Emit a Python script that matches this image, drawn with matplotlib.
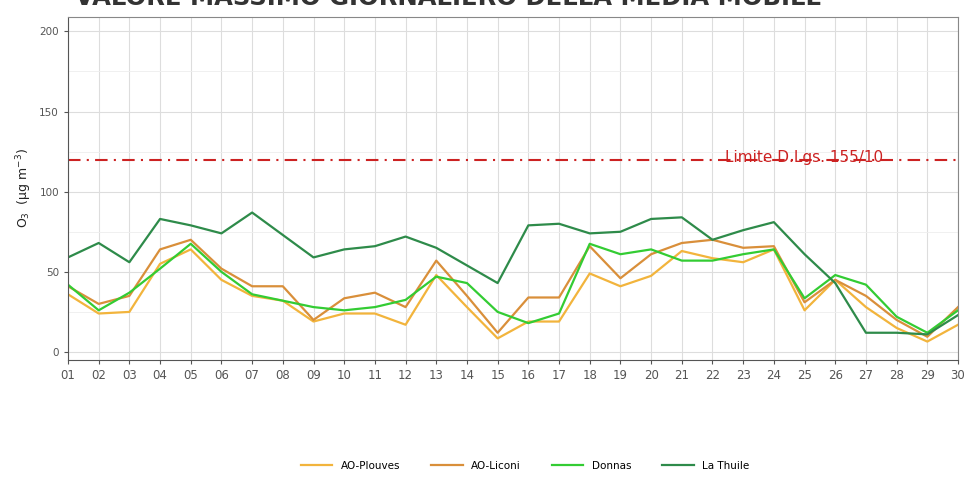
import matplotlib
matplotlib.use("Agg")
import matplotlib.pyplot as plt
from matplotlib.ticker import MultipleLocator
import numpy as np

days = [f"{d:02d}" for d in range(1, 31)]
ao_plouves = [36, 24, 25, 55, 64, 45, 35, 32, 19, 24, 24, 17, 48, 28, 8.5, 19, 19, 49, 41, 47.5,
              63, 58.5, 56, 64, 26, 45, 28, 15, 6.5, 17]
ao_liconi = [41, 30, 35, 64, 70, 52, 41, 41, 20, 33.5, 37, 28, 57, 35, 12, 34, 34, 66, 46, 61,
             68, 70, 65, 66, 31, 45, 35, 20, 9.5, 28]
donnas = [42, 26, 37, 52, 67.5, 50, 36, 32, 28, 26, 28, 32.5, 47, 43, 25, 18, 24, 67.5, 61, 64,
          57, 57, 61, 64, 33.5, 48, 42, 22, 12, 26]
la_thuile = [59, 68, 56, 83, 79, 74, 87, 73, 59, 64, 66, 72, 65, 54, 43, 79, 80, 74, 75, 83,
             84, 70, 76, 81, 61, 43, 12, 12, 11, 23]
limit_value = 120
limit_label = "Limite D.Lgs. 155/10"
series_names = ["AO-Plouves", "AO-Liconi", "Donnas", "La Thuile"]
colors = ["#f2b43c", "#d98f3a", "#33cc33", "#2e8b4a"]

fig = plt.figure(figsize=(9.67, 4.8), dpi=100)
ax = fig.add_axes([0.0703, 0.25, 0.9204, 0.7146])

x = np.arange(1, 31)
for vals, name, c in zip([ao_plouves, ao_liconi, donnas, la_thuile], series_names, colors):
    ax.plot(x, vals, color=c, lw=1.6, label=name)

ax.axhline(limit_value, color="#cc2222", lw=1.5, ls=(0, (6, 3, 1, 3)))
ax.text(25.0, limit_value + 1.5, limit_label, color="#cc2222", fontsize=11,
        ha="center", va="center")

ax.set_xlim(1, 30)
ax.set_ylim(-5, 209)
ax.set_xticks(x)
ax.set_xticklabels(days)
ax.yaxis.set_major_locator(MultipleLocator(50))
ax.yaxis.set_minor_locator(MultipleLocator(25))
ax.grid(which="major", color="#dddddd", lw=0.8)
ax.grid(which="minor", axis="y", color="#eeeeee", lw=0.6)
ax.set_axisbelow(True)
for s in ax.spines.values():
    s.set_color("#888888")
    s.set_linewidth(0.8)
ax.spines["left"].set_color("#555555")
ax.spines["bottom"].set_color("#555555")
ax.tick_params(axis="x", labelsize=8.5, colors="#555555", length=3, labelcolor="#555555")
ax.tick_params(axis="y", labelsize=7.5, colors="#555555", length=3, labelcolor="#555555")
ax.tick_params(axis="y", which="minor", length=0)
ax.set_ylabel(r"O$_3$  (µg m$^{-3}$)", fontsize=9, color="#222222")

fig.text(0.078, 1.004, "VALORE MASSIMO GIORNALIERO DELLA MEDIA MOBILE", fontsize=17.5,
         fontweight="bold", color="#333333", ha="left", va="center")

fig.legend(loc="center", bbox_to_anchor=(0.543, 0.03), ncol=4, frameon=False, fontsize=7.5,
           handlelength=3, columnspacing=3.0)

fig.savefig("out.png", dpi=100)
